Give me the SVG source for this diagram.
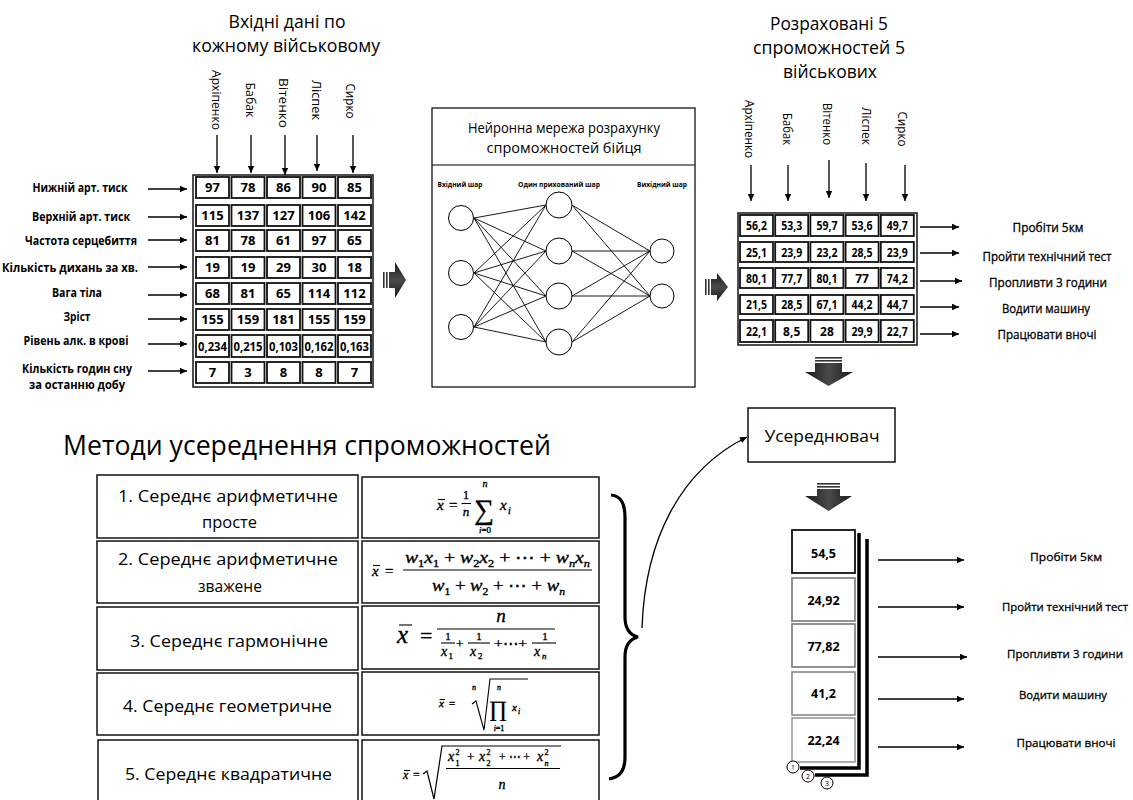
<svg xmlns="http://www.w3.org/2000/svg" width="1133" height="800" viewBox="0 0 1133 800">
<defs>
  <style>
    .t{font-family:"Open Sans","Noto Sans","DejaVu Sans",sans-serif;fill:#000}
    .b{font-weight:bold}
    .sb{stroke:#000;stroke-width:0.3}
    .m{font-family:"Liberation Serif","DejaVu Serif",serif;fill:#000;stroke:#000;stroke-width:0.35}
    .i{font-style:italic}
    .cell{fill:#fff;stroke:#111;stroke-width:1.8}
    .frame{fill:none;stroke:#222;stroke-width:1.6}
    .box{fill:#fff;stroke:#111;stroke-width:1.5}
    .arr{stroke:#000;stroke-width:1.3;fill:none;marker-end:url(#ah)}
    .nn{stroke:#000;stroke-width:0.9;fill:none}
    .neuron{fill:#fff;stroke:#000;stroke-width:1}
    .bar{stroke:#000;stroke-width:1.1;fill:none}
  </style>
  <marker id="ah" markerWidth="8" markerHeight="8" refX="7" refY="4" orient="auto" markerUnits="userSpaceOnUse">
    <path d="M0,0.8 L7,4 L0,7.2 z" fill="#000"/>
  </marker>
  <linearGradient id="gh" x1="0" y1="0" x2="0" y2="1">
    <stop offset="0" stop-color="#1a1a1a"/>
    <stop offset="0.5" stop-color="#4a4a4a"/>
    <stop offset="1" stop-color="#1a1a1a"/>
  </linearGradient>
  <linearGradient id="gv" x1="0" y1="0" x2="1" y2="0">
    <stop offset="0" stop-color="#1a1a1a"/>
    <stop offset="0.5" stop-color="#4a4a4a"/>
    <stop offset="1" stop-color="#1a1a1a"/>
  </linearGradient>
</defs>
<rect width="1133" height="800" fill="#fff"/>

<!-- input data table -->
<g id="input-table">
  <text class="t" x="287" y="28" font-size="17.5" text-anchor="middle" textLength="117" lengthAdjust="spacingAndGlyphs">Вхідні дані по</text>
  <text class="t" x="286" y="52" font-size="17.5" text-anchor="middle" textLength="188" lengthAdjust="spacingAndGlyphs">кожному військовому</text>
  <g font-size="13">
    <text class="t" transform="translate(217,100) rotate(90)" text-anchor="middle" dominant-baseline="central" textLength="60" lengthAdjust="spacingAndGlyphs">Архіпенко</text>
    <text class="t" transform="translate(251,100) rotate(90)" text-anchor="middle" dominant-baseline="central" textLength="35" lengthAdjust="spacingAndGlyphs">Бабак</text>
    <text class="t" transform="translate(284,103) rotate(90)" text-anchor="middle" dominant-baseline="central" textLength="50" lengthAdjust="spacingAndGlyphs">Вітенко</text>
    <text class="t" transform="translate(317,100) rotate(90)" text-anchor="middle" dominant-baseline="central" textLength="40" lengthAdjust="spacingAndGlyphs">Ліспек</text>
    <text class="t" transform="translate(351,101) rotate(90)" text-anchor="middle" dominant-baseline="central" textLength="35" lengthAdjust="spacingAndGlyphs">Сирко</text>
  </g>
  <rect class="frame" x="193" y="175" width="180" height="212"/>
  <g>
    <rect class="cell" x="196" y="177" width="33" height="21"/><rect class="cell" x="231.5" y="177" width="33" height="21"/><rect class="cell" x="267" y="177" width="33" height="21"/><rect class="cell" x="302.5" y="177" width="33" height="21"/><rect class="cell" x="338" y="177" width="33" height="21"/>
    <rect class="cell" x="196" y="205" width="33" height="21"/><rect class="cell" x="231.5" y="205" width="33" height="21"/><rect class="cell" x="267" y="205" width="33" height="21"/><rect class="cell" x="302.5" y="205" width="33" height="21"/><rect class="cell" x="338" y="205" width="33" height="21"/>
    <rect class="cell" x="196" y="230" width="33" height="21"/><rect class="cell" x="231.5" y="230" width="33" height="21"/><rect class="cell" x="267" y="230" width="33" height="21"/><rect class="cell" x="302.5" y="230" width="33" height="21"/><rect class="cell" x="338" y="230" width="33" height="21"/>
    <rect class="cell" x="196" y="257" width="33" height="21"/><rect class="cell" x="231.5" y="257" width="33" height="21"/><rect class="cell" x="267" y="257" width="33" height="21"/><rect class="cell" x="302.5" y="257" width="33" height="21"/><rect class="cell" x="338" y="257" width="33" height="21"/>
    <rect class="cell" x="196" y="283" width="33" height="21"/><rect class="cell" x="231.5" y="283" width="33" height="21"/><rect class="cell" x="267" y="283" width="33" height="21"/><rect class="cell" x="302.5" y="283" width="33" height="21"/><rect class="cell" x="338" y="283" width="33" height="21"/>
    <rect class="cell" x="196" y="309" width="33" height="21"/><rect class="cell" x="231.5" y="309" width="33" height="21"/><rect class="cell" x="267" y="309" width="33" height="21"/><rect class="cell" x="302.5" y="309" width="33" height="21"/><rect class="cell" x="338" y="309" width="33" height="21"/>
    <rect class="cell" x="196" y="335" width="33" height="22"/><rect class="cell" x="231.5" y="335" width="33" height="22"/><rect class="cell" x="267" y="335" width="33" height="22"/><rect class="cell" x="302.5" y="335" width="33" height="22"/><rect class="cell" x="338" y="335" width="33" height="22"/>
    <rect class="cell" x="196" y="362" width="33" height="21"/><rect class="cell" x="231.5" y="362" width="33" height="21"/><rect class="cell" x="267" y="362" width="33" height="21"/><rect class="cell" x="302.5" y="362" width="33" height="21"/><rect class="cell" x="338" y="362" width="33" height="21"/>
  </g>
  <g class="t b" font-size="13" text-anchor="middle">
    <text x="212.5" y="192">97</text><text x="248" y="192">78</text><text x="283.5" y="192">86</text><text x="319" y="192">90</text><text x="354.5" y="192">85</text>
    <text x="212.5" y="220">115</text><text x="248" y="220">137</text><text x="283.5" y="220">127</text><text x="319" y="220">106</text><text x="354.5" y="220">142</text>
    <text x="212.5" y="245">81</text><text x="248" y="245">78</text><text x="283.5" y="245">61</text><text x="319" y="245">97</text><text x="354.5" y="245">65</text>
    <text x="212.5" y="272">19</text><text x="248" y="272">19</text><text x="283.5" y="272">29</text><text x="319" y="272">30</text><text x="354.5" y="272">18</text>
    <text x="212.5" y="298">68</text><text x="248" y="298">81</text><text x="283.5" y="298">65</text><text x="319" y="298">114</text><text x="354.5" y="298">112</text>
    <text x="212.5" y="324">155</text><text x="248" y="324">159</text><text x="283.5" y="324">181</text><text x="319" y="324">155</text><text x="354.5" y="324">159</text>
    <text x="212.5" y="350.5" font-size="12" textLength="29" lengthAdjust="spacingAndGlyphs">0,234</text><text x="248" y="350.5" font-size="12" textLength="29" lengthAdjust="spacingAndGlyphs">0,215</text><text x="283.5" y="350.5" font-size="12" textLength="29" lengthAdjust="spacingAndGlyphs">0,103</text><text x="319" y="350.5" font-size="12" textLength="29" lengthAdjust="spacingAndGlyphs">0,162</text><text x="354.5" y="350.5" font-size="12" textLength="29" lengthAdjust="spacingAndGlyphs">0,163</text>
    <text x="212.5" y="377">7</text><text x="248" y="377">3</text><text x="283.5" y="377">8</text><text x="319" y="377">8</text><text x="354.5" y="377">7</text>
  </g>
  <g class="t b" font-size="12" text-anchor="middle">
    <text x="80" y="191.5" textLength="95" lengthAdjust="spacingAndGlyphs">Нижній арт. тиск</text>
    <text x="81" y="220.5" textLength="98" lengthAdjust="spacingAndGlyphs">Верхній арт. тиск</text>
    <text x="81" y="244.5" textLength="112" lengthAdjust="spacingAndGlyphs">Частота серцебиття</text>
    <text x="70" y="271.5" textLength="136" lengthAdjust="spacingAndGlyphs">Кількість дихань за хв.</text>
    <text x="77" y="296.5" textLength="50" lengthAdjust="spacingAndGlyphs">Вага тіла</text>
    <text x="77" y="320.5" textLength="27" lengthAdjust="spacingAndGlyphs">Зріст</text>
    <text x="76" y="344.5" textLength="105" lengthAdjust="spacingAndGlyphs">Рівень алк. в крові</text>
    <text x="77" y="373" textLength="110" lengthAdjust="spacingAndGlyphs">Кількість годин сну</text>
    <text x="77" y="389" textLength="96" lengthAdjust="spacingAndGlyphs">за останню добу</text>
  </g>
</g>

<!-- neural network -->
<g id="neural-net">
  <rect x="432" y="108" width="263" height="279" fill="#fff" stroke="#000" stroke-width="1.2"/>
  <line x1="432" y1="165" x2="695" y2="165" stroke="#000" stroke-width="1.2"/>
  <text class="t" x="564" y="133" font-size="15" text-anchor="middle" textLength="192" lengthAdjust="spacingAndGlyphs">Нейронна мережа розрахунку</text>
  <text class="t" x="564" y="153" font-size="15" text-anchor="middle" textLength="155" lengthAdjust="spacingAndGlyphs">спроможностей бійця</text>
  <g class="t b" font-size="7" text-anchor="middle">
    <text x="460" y="187" textLength="45" lengthAdjust="spacingAndGlyphs">Вхідний шар</text>
    <text x="559" y="187" textLength="82" lengthAdjust="spacingAndGlyphs">Один прихований шар</text>
    <text x="662" y="187" textLength="50" lengthAdjust="spacingAndGlyphs">Вихідний шар</text>
  </g>
  <g class="nn">
    <path d="M474,218 L546,205 M474,218 L546,251 M474,218 L546,296 M474,218 L546,342"/>
    <path d="M474,273 L546,205 M474,273 L546,251 M474,273 L546,296 M474,273 L546,342"/>
    <path d="M474,327 L546,205 M474,327 L546,251 M474,327 L546,296 M474,327 L546,342"/>
    <path d="M572,205 L650,251 M572,205 L650,296 M572,251 L650,251 M572,251 L650,296"/>
    <path d="M572,296 L650,251 M572,296 L650,296 M572,342 L650,251 M572,342 L650,296"/>
  </g>
  <circle class="neuron" cx="461" cy="218" r="12.5"/>
  <circle class="neuron" cx="461" cy="273" r="12.5"/>
  <circle class="neuron" cx="461" cy="327" r="12.5"/>
  <circle class="neuron" cx="559" cy="205" r="13"/>
  <circle class="neuron" cx="559" cy="251" r="13"/>
  <circle class="neuron" cx="559" cy="296" r="13"/>
  <circle class="neuron" cx="559" cy="342" r="13"/>
  <circle class="neuron" cx="662" cy="251" r="12"/>
  <circle class="neuron" cx="662" cy="296" r="12"/>
</g>

<!-- computed capabilities table -->
<g id="result-table">
  <text class="t" x="829" y="30" font-size="17.5" text-anchor="middle" textLength="118" lengthAdjust="spacingAndGlyphs">Розраховані 5</text>
  <text class="t" x="829" y="54" font-size="17.5" text-anchor="middle" textLength="152" lengthAdjust="spacingAndGlyphs">спроможностей 5</text>
  <text class="t" x="830" y="78" font-size="17.5" text-anchor="middle" textLength="94" lengthAdjust="spacingAndGlyphs">військових</text>
  <g font-size="13">
    <text class="t" transform="translate(750,129) rotate(90)" text-anchor="middle" dominant-baseline="central" textLength="58" lengthAdjust="spacingAndGlyphs">Архіпенко</text>
    <text class="t" transform="translate(788,129) rotate(90)" text-anchor="middle" dominant-baseline="central" textLength="32" lengthAdjust="spacingAndGlyphs">Бабак</text>
    <text class="t" transform="translate(828,124) rotate(90)" text-anchor="middle" dominant-baseline="central" textLength="42" lengthAdjust="spacingAndGlyphs">Вітенко</text>
    <text class="t" transform="translate(867,126) rotate(90)" text-anchor="middle" dominant-baseline="central" textLength="38" lengthAdjust="spacingAndGlyphs">Ліспек</text>
    <text class="t" transform="translate(903,129) rotate(90)" text-anchor="middle" dominant-baseline="central" textLength="35" lengthAdjust="spacingAndGlyphs">Сирко</text>
  </g>
  <rect class="frame" x="738" y="213" width="179" height="132"/>
  <g>
    <rect class="cell" x="740" y="215" width="33" height="21"/><rect class="cell" x="775.2" y="215" width="33" height="21"/><rect class="cell" x="810.4" y="215" width="33" height="21"/><rect class="cell" x="845.6" y="215" width="33" height="21"/><rect class="cell" x="880.8" y="215" width="33" height="21"/>
    <rect class="cell" x="740" y="242" width="33" height="20"/><rect class="cell" x="775.2" y="242" width="33" height="20"/><rect class="cell" x="810.4" y="242" width="33" height="20"/><rect class="cell" x="845.6" y="242" width="33" height="20"/><rect class="cell" x="880.8" y="242" width="33" height="20"/>
    <rect class="cell" x="740" y="268" width="33" height="20"/><rect class="cell" x="775.2" y="268" width="33" height="20"/><rect class="cell" x="810.4" y="268" width="33" height="20"/><rect class="cell" x="845.6" y="268" width="33" height="20"/><rect class="cell" x="880.8" y="268" width="33" height="20"/>
    <rect class="cell" x="740" y="295" width="33" height="19"/><rect class="cell" x="775.2" y="295" width="33" height="19"/><rect class="cell" x="810.4" y="295" width="33" height="19"/><rect class="cell" x="845.6" y="295" width="33" height="19"/><rect class="cell" x="880.8" y="295" width="33" height="19"/>
    <rect class="cell" x="740" y="320" width="33" height="22"/><rect class="cell" x="775.2" y="320" width="33" height="22"/><rect class="cell" x="810.4" y="320" width="33" height="22"/><rect class="cell" x="845.6" y="320" width="33" height="22"/><rect class="cell" x="880.8" y="320" width="33" height="22"/>
  </g>
  <g class="t b" font-size="12" text-anchor="middle">
    <text x="756.5" y="230" textLength="21" lengthAdjust="spacingAndGlyphs">56,2</text><text x="791.7" y="230" textLength="21" lengthAdjust="spacingAndGlyphs">53,3</text><text x="826.9" y="230" textLength="21" lengthAdjust="spacingAndGlyphs">59,7</text><text x="862.1" y="230" textLength="21" lengthAdjust="spacingAndGlyphs">53,6</text><text x="897.3" y="230" textLength="21" lengthAdjust="spacingAndGlyphs">49,7</text>
    <text x="756.5" y="256.5" textLength="21" lengthAdjust="spacingAndGlyphs">25,1</text><text x="791.7" y="256.5" textLength="21" lengthAdjust="spacingAndGlyphs">23,9</text><text x="826.9" y="256.5" textLength="21" lengthAdjust="spacingAndGlyphs">23,2</text><text x="862.1" y="256.5" textLength="21" lengthAdjust="spacingAndGlyphs">28,5</text><text x="897.3" y="256.5" textLength="21" lengthAdjust="spacingAndGlyphs">23,9</text>
    <text x="756.5" y="282.5" textLength="21" lengthAdjust="spacingAndGlyphs">80,1</text><text x="791.7" y="282.5" textLength="21" lengthAdjust="spacingAndGlyphs">77,7</text><text x="826.9" y="282.5" textLength="21" lengthAdjust="spacingAndGlyphs">80,1</text><text x="862.1" y="282.5">77</text><text x="897.3" y="282.5" textLength="21" lengthAdjust="spacingAndGlyphs">74,2</text>
    <text x="756.5" y="308.5" textLength="21" lengthAdjust="spacingAndGlyphs">21,5</text><text x="791.7" y="308.5" textLength="21" lengthAdjust="spacingAndGlyphs">28,5</text><text x="826.9" y="308.5" textLength="21" lengthAdjust="spacingAndGlyphs">67,1</text><text x="862.1" y="308.5" textLength="21" lengthAdjust="spacingAndGlyphs">44,2</text><text x="897.3" y="308.5" textLength="21" lengthAdjust="spacingAndGlyphs">44,7</text>
    <text x="756.5" y="335.5" textLength="21" lengthAdjust="spacingAndGlyphs">22,1</text><text x="791.7" y="335.5">8,5</text><text x="826.9" y="335.5">28</text><text x="862.1" y="335.5" textLength="21" lengthAdjust="spacingAndGlyphs">29,9</text><text x="897.3" y="335.5" textLength="21" lengthAdjust="spacingAndGlyphs">22,7</text>
  </g>
  <g class="t sb" font-size="12" text-anchor="middle">
    <text x="1048" y="232" textLength="71" lengthAdjust="spacingAndGlyphs">Пробіти 5км</text>
    <text x="1047" y="261" textLength="129" lengthAdjust="spacingAndGlyphs">Пройти технічний тест</text>
    <text x="1048" y="287" textLength="118" lengthAdjust="spacingAndGlyphs">Пропливти 3 години</text>
    <text x="1046" y="313" textLength="88" lengthAdjust="spacingAndGlyphs">Водити машину</text>
    <text x="1047" y="339" textLength="99" lengthAdjust="spacingAndGlyphs">Працювати вночі</text>
  </g>
</g>

<!-- averager -->
<g id="averager">
  <rect class="box" x="748" y="408" width="147" height="54"/>
  <text class="t" x="822" y="442" font-size="17" text-anchor="middle" textLength="115" lengthAdjust="spacingAndGlyphs">Усереднювач</text>
</g>

<!-- averaged capabilities stack -->
<g id="averaged-stack">
  <path d="M859,533 L859,768 L800,768" fill="none" stroke="#000" stroke-width="3.5"/>
  <path d="M867,539 L867,775 L815,775" fill="none" stroke="#000" stroke-width="3.5"/>
  <rect x="792" y="530" width="63" height="43" fill="#fff" stroke="#111" stroke-width="1.8"/>
  <rect x="792" y="578" width="63" height="43" fill="#fff" stroke="#777" stroke-width="1.6"/>
  <rect x="792" y="624" width="63" height="43" fill="#fff" stroke="#777" stroke-width="1.6"/>
  <rect x="792" y="672" width="63" height="43" fill="#fff" stroke="#888" stroke-width="1.6"/>
  <rect x="792" y="718" width="63" height="44" fill="#fff" stroke="#999" stroke-width="1.6"/>
  <g class="t b" font-size="12.5" text-anchor="middle">
    <text x="823.5" y="558">54,5</text>
    <text x="823.5" y="605">24,92</text>
    <text x="823.5" y="651">77,82</text>
    <text x="823.5" y="698">41,2</text>
    <text x="823.5" y="745">22,24</text>
  </g>
  <g fill="#fff" stroke="#000" stroke-width="1">
    <circle cx="793" cy="767" r="6"/>
    <circle cx="808" cy="776" r="6"/>
    <circle cx="827" cy="783" r="6"/>
  </g>
  <g class="t" font-size="7" text-anchor="middle">
    <text x="793" y="769.5">1</text>
    <text x="808" y="778.5">2</text>
    <text x="827" y="785.5">3</text>
  </g>
  <g class="t sb" font-size="11.5" text-anchor="middle">
    <text x="1066" y="561" textLength="72" lengthAdjust="spacingAndGlyphs">Пробіти 5км</text>
    <text x="1065" y="611" textLength="126" lengthAdjust="spacingAndGlyphs">Пройти технічний тест</text>
    <text x="1065" y="658" textLength="116" lengthAdjust="spacingAndGlyphs">Пропливти 3 години</text>
    <text x="1063" y="699" textLength="88" lengthAdjust="spacingAndGlyphs">Водити машину</text>
    <text x="1066" y="747" textLength="99" lengthAdjust="spacingAndGlyphs">Працювати вночі</text>
  </g>
</g>

<!-- averaging methods -->
<g id="methods">
  <text class="t" x="63" y="455" font-size="28" textLength="488" lengthAdjust="spacingAndGlyphs">Методи усереднення спроможностей</text>
  <rect class="box" x="97" y="475" width="261" height="63"/>
  <rect class="box" x="97" y="541" width="261" height="62"/>
  <rect class="box" x="97" y="607" width="261" height="63"/>
  <rect class="box" x="97" y="673" width="261" height="62"/>
  <rect class="box" x="98" y="740" width="260" height="70"/>
  <g class="t" font-size="17" text-anchor="middle">
    <text x="228" y="502" textLength="220" lengthAdjust="spacingAndGlyphs">1. Середнє арифметичне</text>
    <text x="229.5" y="528" textLength="55" lengthAdjust="spacingAndGlyphs">просте</text>
    <text x="228" y="565" textLength="220" lengthAdjust="spacingAndGlyphs">2. Середнє арифметичне</text>
    <text x="230" y="592" textLength="64" lengthAdjust="spacingAndGlyphs">зважене</text>
    <text x="229" y="647" textLength="198" lengthAdjust="spacingAndGlyphs">3. Середнє гармонічне</text>
    <text x="227.5" y="712" textLength="209" lengthAdjust="spacingAndGlyphs">4. Середнє геометричне</text>
    <text x="228.5" y="780" textLength="207" lengthAdjust="spacingAndGlyphs">5. Середнє квадратичне</text>
  </g>
</g>

<!-- formulas -->
<g id="formulas">
  <rect class="box" x="362" y="477" width="237" height="61"/>
  <rect class="box" x="362" y="541" width="237" height="62"/>
  <rect class="box" x="362" y="606" width="237" height="63"/>
  <rect class="box" x="362" y="672" width="237" height="63"/>
  <rect class="box" x="362" y="740" width="237" height="70"/>

  <!-- arithmetic mean -->
  <g id="f1">
    <text class="m i" x="437" y="510" font-size="15">x</text>
    <line class="bar" x1="438" y1="499.5" x2="445" y2="499.5"/>
    <text class="m" x="449" y="510" font-size="15">=</text>
    <text class="m" x="466" y="499" font-size="12" text-anchor="middle">1</text>
    <line class="bar" x1="461.5" y1="503.5" x2="471" y2="503.5"/>
    <text class="m i" x="466" y="516" font-size="13" text-anchor="middle">n</text>
    <text class="m" x="474" y="519" font-size="28">∑</text>
    <text class="m i" x="485" y="487" font-size="10" text-anchor="middle">n</text>
    <text class="m" x="485" y="533" font-size="9" text-anchor="middle"><tspan class="i">i</tspan>=0</text>
    <text class="m i" x="500" y="510" font-size="15">x</text>
    <text class="m i" x="508" y="514" font-size="10">i</text>
  </g>

  <!-- weighted mean -->
  <g id="f2">
    <text class="m i" x="372" y="576" font-size="15">x</text>
    <line class="bar" x1="373" y1="565.5" x2="380" y2="565.5"/>
    <text class="m" x="385" y="576" font-size="15">=</text>
    <text class="m" x="405" y="563" font-size="16" textLength="185" lengthAdjust="spacingAndGlyphs"><tspan class="i">w</tspan><tspan font-size="10" dy="4">1</tspan><tspan class="i" dy="-4">x</tspan><tspan font-size="10" dy="4">1</tspan><tspan dy="-4"> + </tspan><tspan class="i">w</tspan><tspan font-size="10" dy="4">2</tspan><tspan class="i" dy="-4">x</tspan><tspan font-size="10" dy="4">2</tspan><tspan dy="-4"> + ⋯ + </tspan><tspan class="i">w</tspan><tspan class="i" font-size="10" dy="4">n</tspan><tspan class="i" dy="-4">x</tspan><tspan class="i" font-size="10" dy="4">n</tspan></text>
    <line class="bar" x1="403" y1="570" x2="592" y2="570"/>
    <text class="m" x="432" y="591" font-size="16" textLength="133" lengthAdjust="spacingAndGlyphs"><tspan class="i">w</tspan><tspan font-size="10" dy="4">1</tspan><tspan dy="-4"> + </tspan><tspan class="i">w</tspan><tspan font-size="10" dy="4">2</tspan><tspan dy="-4"> + ⋯ + </tspan><tspan class="i">w</tspan><tspan class="i" font-size="10" dy="4">n</tspan></text>
  </g>

  <!-- harmonic mean -->
  <g id="f3">
    <text class="m i" x="397" y="643" font-size="25">x</text>
    <line class="bar" x1="399" y1="625" x2="412" y2="625" stroke-width="1.5"/>
    <text class="m" x="420" y="643" font-size="22">=</text>
    <text class="m i" x="501" y="622" font-size="19" text-anchor="middle">n</text>
    <line class="bar" x1="437" y1="629" x2="555" y2="629" stroke-width="1.4"/>
    <text class="m" x="448" y="640" font-size="11" text-anchor="middle">1</text>
    <line class="bar" x1="441" y1="643" x2="455" y2="643"/>
    <text class="m i" x="441" y="656" font-size="14">x</text>
    <text class="m" x="448.5" y="659" font-size="9">1</text>
    <text class="m" x="456" y="648" font-size="13">+</text>
    <text class="m" x="479" y="640" font-size="11" text-anchor="middle">1</text>
    <line class="bar" x1="468" y1="643" x2="490" y2="643"/>
    <text class="m i" x="470" y="656" font-size="14">x</text>
    <text class="m" x="478" y="659" font-size="9">2</text>
    <text class="m" x="494" y="648" font-size="13" textLength="33" lengthAdjust="spacingAndGlyphs">+⋯+</text>
    <text class="m" x="545" y="640" font-size="11" text-anchor="middle">1</text>
    <line class="bar" x1="532" y1="643" x2="556" y2="643"/>
    <text class="m i" x="534" y="656" font-size="14">x</text>
    <text class="m i" x="542" y="659" font-size="9">n</text>
  </g>

  <!-- geometric mean -->
  <g id="f4">
    <text class="m i" x="439" y="707" font-size="11">x</text>
    <line class="bar" x1="439.5" y1="699.5" x2="445" y2="699.5" stroke-width="0.8"/>
    <text class="m" x="449" y="707" font-size="11">=</text>
    <text class="m i" x="472" y="690" font-size="8">n</text>
    <path d="M472,704 L476,701 L484,730 L490,679 L528,679" fill="none" stroke="#000" stroke-width="1.1"/>
    <text class="m" x="489" y="716" font-size="22">∏</text>
    <text class="m i" x="499" y="690" font-size="8" text-anchor="middle">n</text>
    <text class="m" x="499" y="731" font-size="8" text-anchor="middle"><tspan class="i">i</tspan>=1</text>
    <text class="m i" x="512" y="711" font-size="11">x</text>
    <text class="m i" x="518" y="714" font-size="8">i</text>
  </g>

  <!-- quadratic mean -->
  <g id="f5">
    <text class="m i" x="403" y="779" font-size="12">x</text>
    <line class="bar" x1="404" y1="770.5" x2="410" y2="770.5" stroke-width="0.9"/>
    <text class="m" x="413" y="779" font-size="12">=</text>
    <path d="M423,774 L427,771 L434,799 L442,746 L561,746" fill="none" stroke="#000" stroke-width="1.2"/>
    <text class="m i" x="448" y="761" font-size="14">x</text>
    <text class="m" x="455.5" y="755" font-size="8">2</text>
    <text class="m" x="455.5" y="766" font-size="8">1</text>
    <text class="m" x="467" y="761" font-size="13">+</text>
    <text class="m i" x="479" y="761" font-size="14">x</text>
    <text class="m" x="486.5" y="755" font-size="8">2</text>
    <text class="m" x="486.5" y="766" font-size="8">2</text>
    <text class="m" x="499" y="761" font-size="13" textLength="31" lengthAdjust="spacingAndGlyphs">+ ⋯ +</text>
    <text class="m i" x="537" y="761" font-size="14">x</text>
    <text class="m" x="544.5" y="755" font-size="8">2</text>
    <text class="m i" x="544.5" y="766" font-size="8">n</text>
    <line class="bar" x1="446" y1="768.5" x2="560" y2="768.5"/>
    <text class="m i" x="502" y="789" font-size="14" text-anchor="middle">n</text>
  </g>
</g>

<!-- brace grouping the methods -->
<g id="brace">
  <path d="M611,495 C621,496 625,503 625,518 L625,617 C625,629 630,635 638,637 C630,639 625,645 625,657 L625,757 C625,771 620,777 609,779" fill="none" stroke="#000" stroke-width="3.2"/>
</g>

<!-- connectors -->
<g id="connectors">
  <!-- names into input table -->
  <line class="arr" x1="217" y1="135" x2="217" y2="173"/>
  <line class="arr" x1="251" y1="135" x2="251" y2="173"/>
  <line class="arr" x1="285" y1="135" x2="285" y2="175"/>
  <line class="arr" x1="317" y1="135" x2="317" y2="171"/>
  <line class="arr" x1="353" y1="135" x2="353" y2="173"/>
  <!-- parameter rows -->
  <line class="arr" x1="148" y1="189" x2="187" y2="189"/>
  <line class="arr" x1="148" y1="217" x2="187" y2="217"/>
  <line class="arr" x1="148" y1="240" x2="187" y2="240"/>
  <line class="arr" x1="148" y1="267" x2="187" y2="267"/>
  <line class="arr" x1="148" y1="295" x2="187" y2="295"/>
  <line class="arr" x1="148" y1="319" x2="187" y2="319"/>
  <line class="arr" x1="148" y1="344" x2="187" y2="344"/>
  <line class="arr" x1="148" y1="371" x2="187" y2="371"/>
  <!-- names into result table -->
  <line class="arr" x1="751" y1="165" x2="751" y2="201"/>
  <line class="arr" x1="788" y1="165" x2="788" y2="201"/>
  <line class="arr" x1="829" y1="160" x2="829" y2="198"/>
  <line class="arr" x1="866" y1="163" x2="866" y2="201"/>
  <line class="arr" x1="905" y1="165" x2="905" y2="201"/>
  <!-- result rows -->
  <line class="arr" x1="920" y1="227" x2="959" y2="227"/>
  <line class="arr" x1="920" y1="253" x2="959" y2="253"/>
  <line class="arr" x1="920" y1="281" x2="962" y2="281"/>
  <line class="arr" x1="920" y1="307" x2="959" y2="307"/>
  <line class="arr" x1="920" y1="334" x2="959" y2="334"/>
  <!-- averaged rows -->
  <line class="arr" x1="878" y1="560" x2="964" y2="560"/>
  <line class="arr" x1="878" y1="607" x2="964" y2="607"/>
  <line class="arr" x1="878" y1="657" x2="967" y2="657"/>
  <line class="arr" x1="878" y1="699" x2="964" y2="699"/>
  <line class="arr" x1="878" y1="747" x2="964" y2="747"/>
  <!-- methods to averager -->
  <path class="arr" d="M642,628 C645,540 680,470 747,437"/>
  <!-- block arrows -->
  <g id="block-arrow-1">
    <rect x="383" y="272" width="1.6" height="16" fill="#333"/>
    <rect x="386" y="272" width="1.6" height="16" fill="#333"/>
    <path d="M389,272 L395,272 L395,262 L406,280 L395,298 L395,288 L389,288 z" fill="url(#gh)"/>
  </g>
  <g id="block-arrow-2">
    <rect x="705" y="279" width="1.6" height="16" fill="#333"/>
    <rect x="708" y="279" width="1.6" height="16" fill="#333"/>
    <path d="M711,279 L717,279 L717,273 L728,287 L717,301 L717,295 L711,295 z" fill="url(#gh)"/>
  </g>
  <g id="block-arrow-3">
    <rect x="815" y="357" width="27" height="1.6" fill="#333"/>
    <rect x="815" y="360" width="27" height="1.6" fill="#333"/>
    <path d="M815,363 L842,363 L842,372 L853,372 L828.5,386 L805,372 L815,372 z" fill="url(#gv)"/>
  </g>
  <g id="block-arrow-4">
    <rect x="817" y="483" width="23" height="1.6" fill="#333"/>
    <rect x="817" y="486" width="23" height="1.6" fill="#333"/>
    <path d="M817,489 L840,489 L840,496 L852,496 L828.5,511 L805,496 L817,496 z" fill="url(#gv)"/>
  </g>
</g>
</svg>
